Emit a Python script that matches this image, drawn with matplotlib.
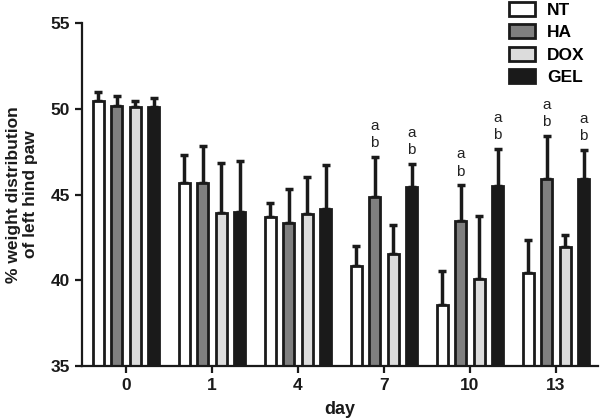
import matplotlib
matplotlib.use("Agg")
import matplotlib.pyplot as plt
import numpy as np

days = ["0", "1", "4", "7", "10", "13"]
groups = ["NT", "HA", "DOX", "GEL"]
means = {
    "NT":  [50.47, 45.69, 43.71, 40.84, 38.53, 40.45],
    "HA":  [50.18, 45.66, 43.36, 44.84, 43.48, 45.93],
    "DOX": [50.12, 43.95, 43.89, 41.56, 40.08, 41.95],
    "GEL": [50.08, 44.00, 44.14, 45.44, 45.52, 45.93],
}
errtop = {
    "NT":  [50.98, 47.33, 44.49, 42.02, 40.55, 42.35],
    "HA":  [50.73, 47.85, 45.33, 47.21, 45.54, 48.42],
    "DOX": [50.47, 46.82, 46.00, 43.21, 43.77, 42.65],
    "GEL": [50.63, 46.94, 46.74, 46.77, 47.67, 47.60],
}
# significance letters: (group, day index)
sig = [("HA", 3), ("GEL", 3), ("HA", 4), ("GEL", 4), ("HA", 5), ("GEL", 5)]
colors = {"NT": "#ffffff", "HA": "#7f7f7f", "DOX": "#dcdcdc", "GEL": "#1a1a1a"}

plt.rcParams['font.family'] = ['Liberation Sans', 'DejaVu Sans']

fig = plt.figure(figsize=(6, 4.2), dpi=100)
ax = fig.add_axes([0.1367, 0.1286, 0.86, 0.8164])

x = np.arange(len(days))
step = 0.215
width = 0.13
handles = []
for i, g in enumerate(groups):
    xs = x + (i - 1.5) * step
    m = np.array(means[g])
    e = np.array(errtop[g]) - m
    ax.errorbar(xs, m, yerr=[np.zeros_like(e), e], fmt='none', ecolor='#1a1a1a',
                elinewidth=2.5, capsize=3.2, capthick=2.5, zorder=1)
    b = ax.bar(xs, m - 35, bottom=35, width=width, color=colors[g],
               edgecolor='#1a1a1a', linewidth=2.0, zorder=2, label=g)
    handles.append(b)

for g, d in sig:
    i = groups.index(g)
    xs = x[d] + (i - 1.5) * step
    top = errtop[g][d]
    ax.text(xs, top + 0.8, "b", ha='center', va='center', fontsize=11, color='#222222')
    ax.text(xs, top + 1.8, "a", ha='center', va='center', fontsize=11, color='#222222')

ax.set_ylim(35, 55)
ax.set_xlim(-0.51, 5.49)
ax.set_yticks([35, 40, 45, 50, 55])
ax.set_xticks(x)
ax.set_xticklabels(days)
for s in ['top', 'right']:
    ax.spines[s].set_visible(False)
for s in ['left', 'bottom']:
    ax.spines[s].set_linewidth(1.6)
    ax.spines[s].set_color('#1a1a1a')
ax.tick_params(axis='both', width=1.6, length=5, color='#1a1a1a', labelsize=12.5,
               labelcolor='#1a1a1a')
for lab in ax.get_xticklabels() + ax.get_yticklabels():
    lab.set_fontweight('bold')
ax.set_xlabel("day", fontsize=13, fontweight='bold', color='#1a1a1a', labelpad=6)
ax.set_ylabel("% weight distribution\nof left hind paw", fontsize=12.5,
              fontweight='bold', color='#1a1a1a', labelpad=9, linespacing=1.15)

fig.legend(handles=handles, labels=groups, loc='upper left',
           bbox_to_anchor=(0.845, 1.0), frameon=False,
           prop={'weight': 'bold', 'size': 12.5}, handlelength=1.5,
           handleheight=0.85, handletextpad=0.7, labelspacing=0.38,
           borderaxespad=0, borderpad=0.1)

fig.savefig("out.png", dpi=100)
